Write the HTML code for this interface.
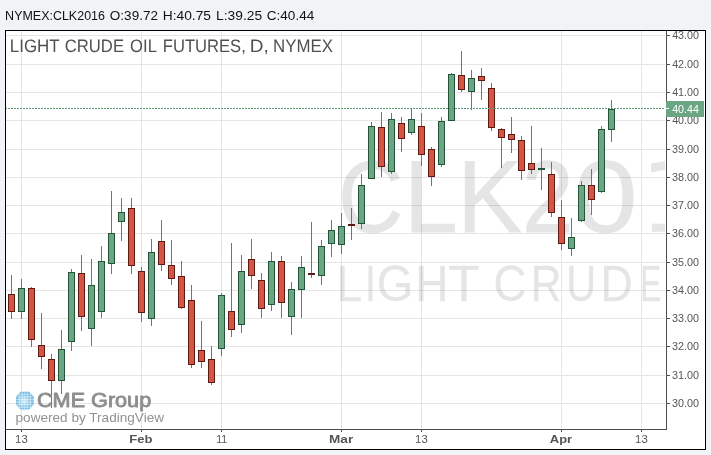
<!DOCTYPE html>
<html><head><meta charset="utf-8"><title>Light Crude Oil Futures</title>
<style>html,body{margin:0;padding:0;background:#f1f3f6;}body{width:711px;height:455px;overflow:hidden;}svg{display:block;will-change:transform;}text{font-family:"Liberation Sans",sans-serif;}</style>
</head><body>
<svg width="711" height="455" viewBox="0 0 711 455">
<defs><clipPath id="plot"><rect x="6" y="31" width="659" height="398"/></clipPath>
<radialGradient id="gl" cx="0.45" cy="0.5" r="0.6"><stop offset="0" stop-color="#cbe7f6"/><stop offset="0.45" stop-color="#8ac7e8"/><stop offset="1" stop-color="#58abda"/></radialGradient>
<clipPath id="globe"><polygon points="20.6,391.7 29,391.7 33.6,396.6 33.6,404.6 29,409.6 20.6,409.6 16,404.6 16,396.6"/></clipPath>
</defs>
<rect x="0" y="0" width="711" height="455" fill="#f1f3f6"/>
<rect x="5" y="30" width="701" height="420" fill="#000"/>
<rect x="6" y="31" width="699" height="418" fill="#fff"/>
<text transform="translate(5.12,19.80) scale(1.0156,1)" font-size="12.3" fill="#111">NYMEX:CLK2016</text>
<text transform="translate(109.87,19.80) scale(1.0986,1)" font-size="12.3" fill="#111">O:39.72</text>
<text transform="translate(162.72,19.80) scale(1.1220,1)" font-size="12.3" fill="#111">H:40.75</text>
<text transform="translate(216.12,19.80) scale(1.1193,1)" font-size="12.3" fill="#111">L:39.25</text>
<text transform="translate(266.76,19.80) scale(1.1020,1)" font-size="12.3" fill="#111">C:40.44</text>
<g clip-path="url(#plot)">
<g fill="#e5e5e5" shape-rendering="crispEdges">
<rect x="6" y="35" width="659" height="1"/>
<rect x="6" y="64" width="659" height="1"/>
<rect x="6" y="92" width="659" height="1"/>
<rect x="6" y="120" width="659" height="1"/>
<rect x="6" y="149" width="659" height="1"/>
<rect x="6" y="177" width="659" height="1"/>
<rect x="6" y="205" width="659" height="1"/>
<rect x="6" y="233" width="659" height="1"/>
<rect x="6" y="262" width="659" height="1"/>
<rect x="6" y="290" width="659" height="1"/>
<rect x="6" y="318" width="659" height="1"/>
<rect x="6" y="346" width="659" height="1"/>
<rect x="6" y="375" width="659" height="1"/>
<rect x="6" y="403" width="659" height="1"/>
<rect x="21" y="31" width="1" height="397"/>
<rect x="141" y="31" width="1" height="397"/>
<rect x="221" y="31" width="1" height="397"/>
<rect x="341" y="31" width="1" height="397"/>
<rect x="421" y="31" width="1" height="397"/>
<rect x="561" y="31" width="1" height="397"/>
<rect x="641" y="31" width="1" height="397"/>
</g>
<g opacity="0.105" stroke="#000" stroke-linejoin="round">
<text transform="translate(338.06,231.60) scale(0.8818,1)" font-size="102.5" fill="#000" stroke-width="0.8">C</text>
<text transform="translate(404.02,231.60) scale(0.9398,1)" font-size="102.5" fill="#000" stroke-width="0.8">L</text>
<text transform="translate(457.21,231.60) scale(0.9484,1)" font-size="102.5" fill="#000" stroke-width="0.8">K</text>
<text transform="translate(521.94,231.60) scale(0.9074,1)" font-size="102.5" fill="#000" stroke-width="0.8">2</text>
<text transform="translate(573.71,231.60) scale(1.1200,1)" font-size="102.5" fill="#000" stroke-width="0.8">0</text>
<polygon points="651.1,163.8 665,161.0 665,169.8 651.1,172.5" fill="#000" stroke="none"/>
<rect x="651.8" y="223.7" width="15" height="8.1" fill="#000" stroke="none"/>
<text transform="translate(336.61,301.00) scale(0.9148,1)" font-size="50.3" fill="#000" stroke-width="0.4">L</text>
<text transform="translate(365.27,301.00) scale(0.7452,1)" font-size="50.3" fill="#000" stroke-width="0.4">I</text>
<text transform="translate(376.75,301.00) scale(0.9346,1)" font-size="50.3" fill="#000" stroke-width="0.4">G</text>
<text transform="translate(415.36,301.00) scale(0.9136,1)" font-size="50.3" fill="#000" stroke-width="0.4">H</text>
<text transform="translate(448.15,301.00) scale(1.0179,1)" font-size="50.3" fill="#000" stroke-width="0.4">T</text>
<text transform="translate(493.57,301.00) scale(0.9031,1)" font-size="50.3" fill="#000" stroke-width="0.4">C</text>
<text transform="translate(530.64,301.00) scale(0.8434,1)" font-size="50.3" fill="#000" stroke-width="0.4">R</text>
<text transform="translate(566.36,301.00) scale(0.8237,1)" font-size="50.3" fill="#000" stroke-width="0.4">U</text>
<text transform="translate(600.48,301.00) scale(0.8841,1)" font-size="50.3" fill="#000" stroke-width="0.4">D</text>
<text transform="translate(640.26,301.00) scale(0.6216,1)" font-size="50.3" fill="#000" stroke-width="0.4">E</text>
</g>
<text transform="translate(9.78,52.40) scale(0.9416,1)" font-size="18.0" fill="#505050" text-rendering="geometricPrecision">LIGHT</text>
<text transform="translate(64.72,52.40) scale(0.9262,1)" font-size="18.0" fill="#505050" text-rendering="geometricPrecision">CRUDE</text>
<text transform="translate(130.12,52.40) scale(0.9235,1)" font-size="18.0" fill="#505050" text-rendering="geometricPrecision">OIL</text>
<text transform="translate(162.80,52.40) scale(0.9215,1)" font-size="18.0" fill="#505050" text-rendering="geometricPrecision">FUTURES,</text>
<text transform="translate(249.72,52.40) scale(1.0558,1)" font-size="18.0" fill="#505050" text-rendering="geometricPrecision">D,</text>
<text transform="translate(272.98,52.40) scale(0.9357,1)" font-size="18.0" fill="#505050" text-rendering="geometricPrecision">NYMEX</text>
<g shape-rendering="crispEdges">
<rect x="11" y="275" width="1" height="44" fill="#737375"/>
<rect x="8" y="294" width="7" height="18" fill="#5b1a13"/>
<rect x="9" y="295" width="5" height="16" fill="#d75442"/>
<rect x="21" y="279" width="1" height="40" fill="#737375"/>
<rect x="18" y="288" width="7" height="24" fill="#225437"/>
<rect x="19" y="289" width="5" height="22" fill="#6ba583"/>
<rect x="31" y="287" width="1" height="60" fill="#737375"/>
<rect x="28" y="288" width="7" height="52" fill="#5b1a13"/>
<rect x="29" y="289" width="5" height="50" fill="#d75442"/>
<rect x="41" y="313" width="1" height="56" fill="#737375"/>
<rect x="38" y="345" width="7" height="12" fill="#5b1a13"/>
<rect x="39" y="346" width="5" height="10" fill="#d75442"/>
<rect x="51" y="354" width="1" height="54" fill="#737375"/>
<rect x="48" y="359" width="7" height="22" fill="#5b1a13"/>
<rect x="49" y="360" width="5" height="20" fill="#d75442"/>
<rect x="61" y="330" width="1" height="64" fill="#737375"/>
<rect x="58" y="349" width="7" height="32" fill="#225437"/>
<rect x="59" y="350" width="5" height="30" fill="#6ba583"/>
<rect x="71" y="269" width="1" height="82" fill="#737375"/>
<rect x="68" y="272" width="7" height="70" fill="#225437"/>
<rect x="69" y="273" width="5" height="68" fill="#6ba583"/>
<rect x="81" y="255" width="1" height="76" fill="#737375"/>
<rect x="78" y="273" width="7" height="44" fill="#5b1a13"/>
<rect x="79" y="274" width="5" height="42" fill="#d75442"/>
<rect x="91" y="259" width="1" height="87" fill="#737375"/>
<rect x="88" y="285" width="7" height="44" fill="#225437"/>
<rect x="89" y="286" width="5" height="42" fill="#6ba583"/>
<rect x="101" y="246" width="1" height="72" fill="#737375"/>
<rect x="98" y="261" width="7" height="51" fill="#225437"/>
<rect x="99" y="262" width="5" height="49" fill="#6ba583"/>
<rect x="111" y="191" width="1" height="83" fill="#737375"/>
<rect x="108" y="233" width="7" height="31" fill="#225437"/>
<rect x="109" y="234" width="5" height="29" fill="#6ba583"/>
<rect x="121" y="198" width="1" height="43" fill="#737375"/>
<rect x="118" y="212" width="7" height="10" fill="#225437"/>
<rect x="119" y="213" width="5" height="8" fill="#6ba583"/>
<rect x="131" y="198" width="1" height="76" fill="#737375"/>
<rect x="128" y="208" width="7" height="58" fill="#5b1a13"/>
<rect x="129" y="209" width="5" height="56" fill="#d75442"/>
<rect x="141" y="267" width="1" height="55" fill="#737375"/>
<rect x="138" y="271" width="7" height="42" fill="#5b1a13"/>
<rect x="139" y="272" width="5" height="40" fill="#d75442"/>
<rect x="151" y="239" width="1" height="87" fill="#737375"/>
<rect x="148" y="252" width="7" height="67" fill="#225437"/>
<rect x="149" y="253" width="5" height="65" fill="#6ba583"/>
<rect x="161" y="220" width="1" height="51" fill="#737375"/>
<rect x="158" y="241" width="7" height="24" fill="#5b1a13"/>
<rect x="159" y="242" width="5" height="22" fill="#d75442"/>
<rect x="171" y="240" width="1" height="45" fill="#737375"/>
<rect x="168" y="265" width="7" height="14" fill="#5b1a13"/>
<rect x="169" y="266" width="5" height="12" fill="#d75442"/>
<rect x="181" y="261" width="1" height="48" fill="#737375"/>
<rect x="178" y="276" width="7" height="32" fill="#5b1a13"/>
<rect x="179" y="277" width="5" height="30" fill="#d75442"/>
<rect x="191" y="285" width="1" height="83" fill="#737375"/>
<rect x="188" y="300" width="7" height="65" fill="#5b1a13"/>
<rect x="189" y="301" width="5" height="63" fill="#d75442"/>
<rect x="201" y="321" width="1" height="47" fill="#737375"/>
<rect x="198" y="350" width="7" height="12" fill="#5b1a13"/>
<rect x="199" y="351" width="5" height="10" fill="#d75442"/>
<rect x="211" y="346" width="1" height="39" fill="#737375"/>
<rect x="208" y="359" width="7" height="24" fill="#5b1a13"/>
<rect x="209" y="360" width="5" height="22" fill="#d75442"/>
<rect x="221" y="293" width="1" height="63" fill="#737375"/>
<rect x="218" y="295" width="7" height="54" fill="#225437"/>
<rect x="219" y="296" width="5" height="52" fill="#6ba583"/>
<rect x="231" y="243" width="1" height="94" fill="#737375"/>
<rect x="228" y="311" width="7" height="19" fill="#5b1a13"/>
<rect x="229" y="312" width="5" height="17" fill="#d75442"/>
<rect x="241" y="255" width="1" height="78" fill="#737375"/>
<rect x="238" y="271" width="7" height="54" fill="#225437"/>
<rect x="239" y="272" width="5" height="52" fill="#6ba583"/>
<rect x="251" y="239" width="1" height="50" fill="#737375"/>
<rect x="248" y="259" width="7" height="17" fill="#5b1a13"/>
<rect x="249" y="260" width="5" height="15" fill="#d75442"/>
<rect x="261" y="273" width="1" height="45" fill="#737375"/>
<rect x="258" y="280" width="7" height="29" fill="#5b1a13"/>
<rect x="259" y="281" width="5" height="27" fill="#d75442"/>
<rect x="271" y="252" width="1" height="59" fill="#737375"/>
<rect x="268" y="261" width="7" height="44" fill="#225437"/>
<rect x="269" y="262" width="5" height="42" fill="#6ba583"/>
<rect x="281" y="256" width="1" height="62" fill="#737375"/>
<rect x="278" y="261" width="7" height="42" fill="#5b1a13"/>
<rect x="279" y="262" width="5" height="40" fill="#d75442"/>
<rect x="291" y="282" width="1" height="53" fill="#737375"/>
<rect x="288" y="289" width="7" height="28" fill="#225437"/>
<rect x="289" y="290" width="5" height="26" fill="#6ba583"/>
<rect x="301" y="256" width="1" height="62" fill="#737375"/>
<rect x="298" y="267" width="7" height="23" fill="#225437"/>
<rect x="299" y="268" width="5" height="21" fill="#6ba583"/>
<rect x="311" y="222" width="1" height="56" fill="#737375"/>
<rect x="308" y="273" width="7" height="2" fill="#5b1a13"/>
<rect x="321" y="240" width="1" height="45" fill="#737375"/>
<rect x="318" y="246" width="7" height="30" fill="#225437"/>
<rect x="319" y="247" width="5" height="28" fill="#6ba583"/>
<rect x="331" y="220" width="1" height="37" fill="#737375"/>
<rect x="328" y="230" width="7" height="14" fill="#225437"/>
<rect x="329" y="231" width="5" height="12" fill="#6ba583"/>
<rect x="341" y="213" width="1" height="41" fill="#737375"/>
<rect x="338" y="226" width="7" height="19" fill="#225437"/>
<rect x="339" y="227" width="5" height="17" fill="#6ba583"/>
<rect x="351" y="208" width="1" height="32" fill="#737375"/>
<rect x="348" y="224" width="7" height="2" fill="#5b1a13"/>
<rect x="361" y="174" width="1" height="55" fill="#737375"/>
<rect x="358" y="185" width="7" height="39" fill="#225437"/>
<rect x="359" y="186" width="5" height="37" fill="#6ba583"/>
<rect x="371" y="122" width="1" height="57" fill="#737375"/>
<rect x="368" y="126" width="7" height="53" fill="#225437"/>
<rect x="369" y="127" width="5" height="51" fill="#6ba583"/>
<rect x="381" y="112" width="1" height="65" fill="#737375"/>
<rect x="378" y="127" width="7" height="40" fill="#5b1a13"/>
<rect x="379" y="128" width="5" height="38" fill="#d75442"/>
<rect x="391" y="113" width="1" height="61" fill="#737375"/>
<rect x="388" y="119" width="7" height="53" fill="#225437"/>
<rect x="389" y="120" width="5" height="51" fill="#6ba583"/>
<rect x="401" y="117" width="1" height="35" fill="#737375"/>
<rect x="398" y="123" width="7" height="16" fill="#5b1a13"/>
<rect x="399" y="124" width="5" height="14" fill="#d75442"/>
<rect x="411" y="108" width="1" height="27" fill="#737375"/>
<rect x="408" y="119" width="7" height="14" fill="#225437"/>
<rect x="409" y="120" width="5" height="12" fill="#6ba583"/>
<rect x="421" y="113" width="1" height="53" fill="#737375"/>
<rect x="418" y="126" width="7" height="29" fill="#5b1a13"/>
<rect x="419" y="127" width="5" height="27" fill="#d75442"/>
<rect x="431" y="147" width="1" height="39" fill="#737375"/>
<rect x="428" y="149" width="7" height="28" fill="#5b1a13"/>
<rect x="429" y="150" width="5" height="26" fill="#d75442"/>
<rect x="441" y="117" width="1" height="50" fill="#737375"/>
<rect x="438" y="121" width="7" height="44" fill="#225437"/>
<rect x="439" y="122" width="5" height="42" fill="#6ba583"/>
<rect x="451" y="73" width="1" height="48" fill="#737375"/>
<rect x="448" y="74" width="7" height="47" fill="#225437"/>
<rect x="449" y="75" width="5" height="45" fill="#6ba583"/>
<rect x="461" y="51" width="1" height="41" fill="#737375"/>
<rect x="458" y="75" width="7" height="15" fill="#5b1a13"/>
<rect x="459" y="76" width="5" height="13" fill="#d75442"/>
<rect x="471" y="70" width="1" height="40" fill="#737375"/>
<rect x="468" y="78" width="7" height="14" fill="#225437"/>
<rect x="469" y="79" width="5" height="12" fill="#6ba583"/>
<rect x="481" y="68" width="1" height="32" fill="#737375"/>
<rect x="478" y="76" width="7" height="5" fill="#5b1a13"/>
<rect x="479" y="77" width="5" height="3" fill="#d75442"/>
<rect x="491" y="83" width="1" height="48" fill="#737375"/>
<rect x="488" y="88" width="7" height="40" fill="#5b1a13"/>
<rect x="489" y="89" width="5" height="38" fill="#d75442"/>
<rect x="501" y="128" width="1" height="40" fill="#737375"/>
<rect x="498" y="129" width="7" height="9" fill="#5b1a13"/>
<rect x="499" y="130" width="5" height="7" fill="#d75442"/>
<rect x="511" y="117" width="1" height="36" fill="#737375"/>
<rect x="508" y="134" width="7" height="6" fill="#5b1a13"/>
<rect x="509" y="135" width="5" height="4" fill="#d75442"/>
<rect x="521" y="136" width="1" height="44" fill="#737375"/>
<rect x="518" y="140" width="7" height="31" fill="#5b1a13"/>
<rect x="519" y="141" width="5" height="29" fill="#d75442"/>
<rect x="531" y="126" width="1" height="48" fill="#737375"/>
<rect x="528" y="163" width="7" height="7" fill="#5b1a13"/>
<rect x="529" y="164" width="5" height="5" fill="#d75442"/>
<rect x="541" y="148" width="1" height="42" fill="#737375"/>
<rect x="538" y="168" width="7" height="2" fill="#225437"/>
<rect x="551" y="162" width="1" height="55" fill="#737375"/>
<rect x="548" y="174" width="7" height="39" fill="#5b1a13"/>
<rect x="549" y="175" width="5" height="37" fill="#d75442"/>
<rect x="561" y="200" width="1" height="50" fill="#737375"/>
<rect x="558" y="217" width="7" height="27" fill="#5b1a13"/>
<rect x="559" y="218" width="5" height="25" fill="#d75442"/>
<rect x="571" y="218" width="1" height="38" fill="#737375"/>
<rect x="568" y="237" width="7" height="12" fill="#225437"/>
<rect x="569" y="238" width="5" height="10" fill="#6ba583"/>
<rect x="581" y="181" width="1" height="41" fill="#737375"/>
<rect x="578" y="185" width="7" height="36" fill="#225437"/>
<rect x="579" y="186" width="5" height="34" fill="#6ba583"/>
<rect x="591" y="169" width="1" height="46" fill="#737375"/>
<rect x="588" y="185" width="7" height="15" fill="#5b1a13"/>
<rect x="589" y="186" width="5" height="13" fill="#d75442"/>
<rect x="601" y="126" width="1" height="67" fill="#737375"/>
<rect x="598" y="129" width="7" height="63" fill="#225437"/>
<rect x="599" y="130" width="5" height="61" fill="#6ba583"/>
<rect x="611" y="100" width="1" height="42" fill="#737375"/>
<rect x="608" y="109" width="7" height="21" fill="#225437"/>
<rect x="609" y="110" width="5" height="19" fill="#6ba583"/>
</g>
<line x1="5" y1="108.5" x2="666" y2="108.5" stroke="#5a9a73" stroke-width="1" stroke-dasharray="2,1" shape-rendering="crispEdges"/>
<g clip-path="url(#globe)"><rect x="15" y="391" width="20" height="20" fill="url(#gl)"/>
<g stroke="#fff" stroke-width="0.7" opacity="0.7" fill="none">
<line x1="19.3" y1="391" x2="19.3" y2="410"/>
<line x1="22.1" y1="391" x2="22.1" y2="410"/>
<line x1="24.9" y1="391" x2="24.9" y2="410"/>
<line x1="27.7" y1="391" x2="27.7" y2="410"/>
<line x1="30.5" y1="391" x2="30.5" y2="410"/>
<line x1="15" y1="394.2" x2="35" y2="394.2"/>
<line x1="15" y1="396.8" x2="35" y2="396.8"/>
<line x1="15" y1="399.4" x2="35" y2="399.4"/>
<line x1="15" y1="402.0" x2="35" y2="402.0"/>
<line x1="15" y1="404.6" x2="35" y2="404.6"/>
<line x1="15" y1="407.2" x2="35" y2="407.2"/>
</g></g>
<text transform="translate(36.99,407.30) scale(1.0612,1)" font-size="20.4" fill="#8e8e8e" stroke="#8e8e8e" stroke-width="0.85" stroke-linejoin="round">CME Group</text>
<text transform="translate(15.55,421.60) scale(1.0622,1)" font-size="12.8" fill="#929292">powered by TradingView</text>
</g>
<g fill="#4d4d4d" shape-rendering="crispEdges">
<rect x="666" y="31" width="1" height="399"/>
<rect x="6" y="429" width="661" height="1"/>
<rect x="667" y="35" width="3" height="1"/>
<rect x="667" y="64" width="3" height="1"/>
<rect x="667" y="92" width="3" height="1"/>
<rect x="667" y="120" width="3" height="1"/>
<rect x="667" y="149" width="3" height="1"/>
<rect x="667" y="177" width="3" height="1"/>
<rect x="667" y="205" width="3" height="1"/>
<rect x="667" y="233" width="3" height="1"/>
<rect x="667" y="262" width="3" height="1"/>
<rect x="667" y="290" width="3" height="1"/>
<rect x="667" y="318" width="3" height="1"/>
<rect x="667" y="346" width="3" height="1"/>
<rect x="667" y="375" width="3" height="1"/>
<rect x="667" y="403" width="3" height="1"/>
<rect x="21" y="430" width="1" height="2"/>
<rect x="141" y="430" width="1" height="2"/>
<rect x="221" y="430" width="1" height="2"/>
<rect x="341" y="430" width="1" height="2"/>
<rect x="421" y="430" width="1" height="2"/>
<rect x="561" y="430" width="1" height="2"/>
<rect x="641" y="430" width="1" height="2"/>
</g>
<g>
<text transform="translate(672.13,39.00) scale(0.9749,1)" font-size="11" fill="#555555">43.00</text>
<text transform="translate(672.13,68.00) scale(0.9749,1)" font-size="11" fill="#555555">42.00</text>
<text transform="translate(672.13,96.00) scale(0.9749,1)" font-size="11" fill="#555555">41.00</text>
<text transform="translate(672.13,124.00) scale(0.9749,1)" font-size="11" fill="#555555">40.00</text>
<text transform="translate(671.96,153.00) scale(0.9811,1)" font-size="11" fill="#555555">39.00</text>
<text transform="translate(671.96,181.00) scale(0.9811,1)" font-size="11" fill="#555555">38.00</text>
<text transform="translate(671.96,209.00) scale(0.9811,1)" font-size="11" fill="#555555">37.00</text>
<text transform="translate(671.96,237.00) scale(0.9811,1)" font-size="11" fill="#555555">36.00</text>
<text transform="translate(671.96,266.00) scale(0.9811,1)" font-size="11" fill="#555555">35.00</text>
<text transform="translate(671.96,294.00) scale(0.9811,1)" font-size="11" fill="#555555">34.00</text>
<text transform="translate(671.96,322.00) scale(0.9811,1)" font-size="11" fill="#555555">33.00</text>
<text transform="translate(671.96,350.00) scale(0.9811,1)" font-size="11" fill="#555555">32.00</text>
<text transform="translate(671.96,379.00) scale(0.9811,1)" font-size="11" fill="#555555">31.00</text>
<text transform="translate(671.96,407.00) scale(0.9811,1)" font-size="11" fill="#555555">30.00</text>
</g>
<rect x="666" y="101" width="38" height="16" fill="#6ba583" shape-rendering="crispEdges"/>
<rect x="666" y="108" width="3" height="1" fill="#fff" shape-rendering="crispEdges"/>
<text transform="translate(672.13,113.10) scale(0.9749,1)" font-size="11" fill="#fff">40.44</text>
<text transform="translate(15.09,443.20) scale(1.0358,1)" font-size="11" fill="#555555">13</text>
<text transform="translate(129.18,443.20) scale(1.1886,1)" font-size="11" font-weight="bold" fill="#555555">Feb</text>
<text transform="translate(216.24,443.20) scale(0.9625,1)" font-size="11" fill="#555555">11</text>
<text transform="translate(329.05,443.20) scale(1.2341,1)" font-size="11" font-weight="bold" fill="#555555">Mar</text>
<text transform="translate(415.09,443.20) scale(1.0358,1)" font-size="11" fill="#555555">13</text>
<text transform="translate(549.80,443.20) scale(1.1818,1)" font-size="11" font-weight="bold" fill="#555555">Apr</text>
<text transform="translate(635.09,443.20) scale(1.0358,1)" font-size="11" fill="#555555">13</text>
</svg>
</body></html>
